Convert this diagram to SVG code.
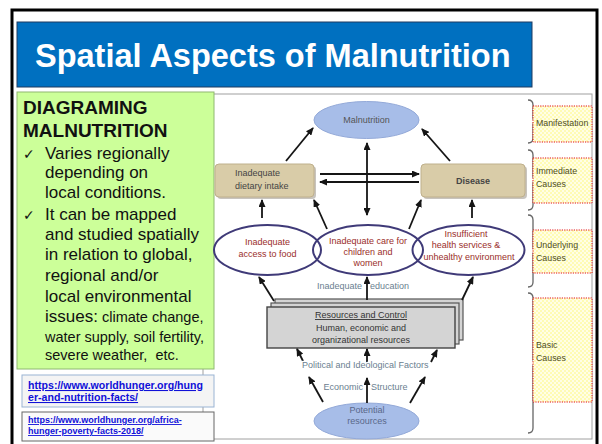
<svg xmlns="http://www.w3.org/2000/svg" width="602" height="444" viewBox="0 0 602 444">
<style>
  .sans{font-family:"Liberation Sans",Arial,sans-serif}
  .bul{font-family:"Liberation Sans",Arial,sans-serif;font-size:17px;fill:#111}
  .sm{font-size:14.5px}
  .chk{font-family:"DejaVu Sans",sans-serif;font-size:14px;fill:#111}
  .link{font-family:"Liberation Sans",Arial,sans-serif;font-weight:bold;fill:#1010d8;text-decoration:underline}
  .dg{font-family:"Liberation Sans",Arial,sans-serif;font-size:9px}
  .red{fill:#9a2e2a}
  .steel{fill:#6a8090;stroke:#fff;stroke-width:2.5px;paint-order:stroke;stroke-linejoin:round}
  .ell{fill:none;stroke:#3f3a78;stroke-width:2}
  .tan{fill:#d9cca8;stroke:#bfb08c;stroke-width:1}
  .shadow{fill:#9a9488;opacity:0.55}
  .blue{fill:#a7bde8;stroke:#93a9d8;stroke-width:1}
  .lab{fill:url(#chk);stroke:#e01010;stroke-width:1;stroke-dasharray:1.2 1.2}
  .labt{font-family:"Liberation Sans",Arial,sans-serif;font-size:8.8px;fill:#4e4e1e}
  .brace{fill:none;stroke:#666;stroke-width:1.3}
  .con{stroke:#151515;stroke-width:1.8;fill:none;marker-end:url(#ah)}
</style>
<defs>
  <marker id="ah" markerWidth="8" markerHeight="7" refX="7" refY="3.5" orient="auto-start-reverse" markerUnits="userSpaceOnUse">
    <path d="M0,0 L8,3.5 L0,7 z" fill="#151515"/>
  </marker>
  <pattern id="chk" width="4" height="4" patternUnits="userSpaceOnUse">
    <rect width="4" height="4" fill="#fffbb4"/>
    <rect width="2" height="2" fill="#fffee6"/>
    <rect x="2" y="2" width="2" height="2" fill="#fffee6"/>
  </pattern>
</defs>

<rect width="602" height="444" fill="#ffffff"/>
<!-- outer frame -->
<rect x="12" y="10" width="585" height="460" fill="none" stroke="#000" stroke-width="3"/>

<!-- title -->
<g id="title">
  <rect x="17" y="22" width="515" height="65" fill="#0070c0" stroke="#1f3a60" stroke-width="1"/>
  <text x="35" y="67" class="sans" font-size="32.5" font-weight="bold" fill="#fff">Spatial Aspects of Malnutrition</text>
</g>

<!-- diagram frame -->
<rect x="203" y="94" width="389" height="345" fill="#fff" stroke="#a0a0a0" stroke-width="1"/>

<!-- green text box -->
<g id="textbox">
  <rect x="17" y="92" width="197" height="277" fill="#ccff99" stroke="#8fb870" stroke-width="1"/>
  <text x="23" y="114" class="sans" font-size="19" font-weight="bold" fill="#111">DIAGRAMING</text>
  <text x="23" y="137" class="sans" font-size="19" font-weight="bold" fill="#111">MALNUTRITION</text>
  <text x="23" y="159" class="chk">✓</text>
  <text x="45" y="159" class="bul">Varies regionally</text>
  <text x="45" y="178" class="bul">depending on</text>
  <text x="45" y="198" class="bul">local conditions.</text>
  <text x="23" y="220" class="chk">✓</text>
  <text x="45" y="220" class="bul">It can be mapped</text>
  <text x="45" y="240" class="bul">and studied spatially</text>
  <text x="45" y="260" class="bul">in relation to global,</text>
  <text x="45" y="281" class="bul">regional and/or</text>
  <text x="45" y="302" class="bul">local environmental</text>
  <text x="45" y="322" class="bul">issues:<tspan class="sm"> climate change,</tspan></text>
  <text x="45" y="342" class="bul sm">water supply, soil fertility,</text>
  <text x="45" y="360" class="bul sm" xml:space="preserve">severe weather,  etc.</text>
</g>

<!-- links -->
<g id="link1">
  <rect x="22" y="375" width="192" height="32" fill="#f4f4f4" stroke="#9ab4d4" stroke-width="1"/>
  <text x="28" y="389" class="link" font-size="10.6">https://www.worldhunger.org/hung</text>
  <text x="28" y="401" class="link" font-size="10.6">er-and-nutrition-facts/</text>
</g>
<g id="link2">
  <rect x="22" y="412" width="192" height="29" fill="#fafafa" stroke="#666" stroke-width="1"/>
  <text x="28" y="423" class="link" font-size="9">https://www.worldhunger.org/africa-</text>
  <text x="28" y="434" class="link" font-size="9">hunger-poverty-facts-2018/</text>
</g>

<!-- diagram nodes -->
<g id="malnutrition">
  <ellipse cx="366.5" cy="120" rx="52.5" ry="18.5" class="blue"/>
  <text x="366.5" y="123" class="dg" font-size="8.5" text-anchor="middle" fill="#555">Malnutrition</text>
</g>
<g id="dietary">
  <rect x="217" y="166" width="99" height="33" rx="4" class="shadow"/>
  <rect x="215" y="164" width="99" height="33" rx="4" class="tan"/>
  <text x="235" y="176" class="dg" font-size="9.5" fill="#444">Inadequate</text>
  <text x="235" y="189" class="dg" font-size="9.5" fill="#444">dietary intake</text>
</g>
<g id="disease">
  <rect x="423" y="166" width="104" height="33" rx="4" class="shadow"/>
  <rect x="421" y="164" width="104" height="33" rx="4" class="tan"/>
  <text x="473" y="184" class="dg" font-weight="bold" text-anchor="middle" fill="#444">Disease</text>
</g>
<g id="access">
  <ellipse cx="267.5" cy="250" rx="53.5" ry="25" class="ell"/>
  <text x="267.5" y="245" class="dg red" text-anchor="middle">Inadequate</text>
  <text x="267.5" y="257" class="dg red" text-anchor="middle">access to food</text>
</g>
<g id="care">
  <ellipse cx="368" cy="250" rx="55" ry="25" class="ell"/>
  <text x="368" y="244" class="dg red" text-anchor="middle">Inadequate care for</text>
  <text x="368" y="255" class="dg red" text-anchor="middle">children and</text>
  <text x="368" y="266" class="dg red" text-anchor="middle">women</text>
</g>
<g id="health">
  <ellipse cx="468.5" cy="250" rx="56" ry="25" class="ell"/>
  <text x="466" y="237" class="dg red" text-anchor="middle">Insufficient</text>
  <text x="466" y="248" class="dg red" text-anchor="middle">health services &amp;</text>
  <text x="469" y="260" class="dg red" text-anchor="middle">unhealthy environment</text>
</g>
<g id="resources">
  <rect x="275" y="299" width="188" height="41" fill="#d4d4d4" stroke="#555" stroke-width="1.2"/>
  <rect x="271" y="303" width="188" height="41" fill="#d4d4d4" stroke="#555" stroke-width="1.2"/>
  <rect x="267" y="307" width="188" height="41" fill="#d4d4d4" stroke="#444" stroke-width="1.4"/>
  <text x="361" y="318" class="dg" text-anchor="middle" fill="#333" text-decoration="underline">Resources and Control</text>
  <text x="361" y="331" class="dg" text-anchor="middle" fill="#333">Human, economic and</text>
  <text x="361" y="343" class="dg" text-anchor="middle" fill="#333">organizational resources</text>
</g>
<g id="potential">
  <ellipse cx="366.5" cy="421" rx="52.5" ry="18" class="blue"/>
  <text x="367" y="413" class="dg" text-anchor="middle" fill="#5a6888">Potential</text>
  <text x="367" y="424" class="dg" text-anchor="middle" fill="#5a6888">resources</text>
</g>

<!-- connectors -->
<g id="connectors">
  <path class="con" d="M286,161 L313,128"/>
  <path class="con" d="M450,161 L422,129"/>
  <path class="con" d="M367,143 L367,215" marker-start="url(#ah)"/>
  <path class="con" d="M320,174 L419,174"/>
  <path class="con" d="M419,182 L320,182"/>
  <path class="con" d="M262,218 L262,200"/>
  <path class="con" d="M327,229 L314,200"/>
  <path class="con" d="M409,229 L421,200"/>
  <path class="con" d="M472,218 L472,200"/>
  <path class="con" d="M274,301 L259,277"/>
  <path class="con" d="M367,300 L367,277"/>
  <path class="con" d="M462,300 L473,277"/>
  <path class="con" d="M323,402 L309,377"/>
  <path class="con" d="M304,363 L297,349"/>
  <path class="con" d="M367,403 L367,378"/>
  <path class="con" d="M367,363 L367,349"/>
  <path class="con" d="M410,403 L425,377"/>
  <path class="con" d="M431,362 L437,350"/>
</g>

<!-- connector labels -->
<g id="edge-labels">
  <text x="362" y="289" class="dg steel" text-anchor="end">Inadequate</text>
  <text x="370" y="289" class="dg steel">education</text>
  <text x="302" y="368" class="dg steel">Political and Ideological Factors</text>
  <text x="363" y="390" class="dg steel" text-anchor="end">Economic</text>
  <text x="371" y="390" class="dg steel">Structure</text>
</g>

<!-- braces and level labels -->
<g id="braces">
  <path class="brace" d="M528,100 Q533,100 533,105 L533,118 Q533,121.5 536,121.5 Q533,121.5 533,125 L533,138 Q533,143 528,143"/>
  <path class="brace" d="M528,150 Q533,150 533,155 L533,176 Q533,180 536,180 Q533,180 533,184 L533,205 Q533,210 528,210"/>
  <path class="brace" d="M528,215 Q533,215 533,220 L533,247 Q533,251 536,251 Q533,251 533,255 L533,282 Q533,287 528,287"/>
  <path class="brace" d="M528,293 Q533,293 533,298 L533,359 Q533,363 536,363 Q533,363 533,367 L533,428 Q533,433 528,433"/>
</g>
<g id="lvl-manifestation">
  <rect x="533" y="106" width="59" height="36" class="lab"/>
  <text x="536" y="126" class="labt">Manifestation</text>
</g>
<g id="lvl-immediate">
  <rect x="533" y="158" width="59" height="45" class="lab"/>
  <text x="536" y="174" class="labt">Immediate</text>
  <text x="536" y="187" class="labt">Causes</text>
</g>
<g id="lvl-underlying">
  <rect x="533" y="230" width="59" height="43" class="lab"/>
  <text x="536" y="248" class="labt">Underlying</text>
  <text x="536" y="261" class="labt">Causes</text>
</g>
<g id="lvl-basic">
  <rect x="533" y="298" width="59" height="104" class="lab"/>
  <text x="536" y="348" class="labt">Basic</text>
  <text x="536" y="361" class="labt">Causes</text>
</g>
</svg>
